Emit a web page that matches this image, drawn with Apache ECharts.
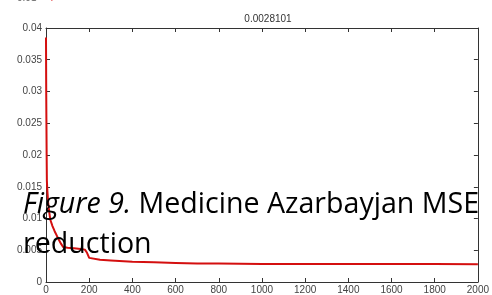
<!DOCTYPE html>
<html><head><meta charset="utf-8">
<script src="https://cdn.jsdelivr.net/npm/echarts@6/dist/echarts.min.js"></script>
<style>html,body{margin:0;padding:0;background:#fff}#c{width:492px;height:295px}</style>
</head><body><div id="c"></div>
<script>
const epochs = [0,1,2,3,4,6,10,15,20,30,40,50,60,70,80,100,130,160,180,190,200,250,300,400,500,600,700,800,1000,1200,1500,1800,2000];
const mse = [0.0385,0.030,0.025,0.020,0.016,0.0145,0.0125,0.011,0.0098,0.0088,0.008,0.0073,0.0066,0.006,0.0055,0.0054,0.0053,0.0052,0.0051,0.0046,0.0038,0.0035,0.0034,0.0032,0.0031,0.0030,0.0029,0.0029,0.00285,0.00284,0.00283,0.00282,0.0028101];
const xTicks = [0,200,400,600,800,1000,1200,1400,1600,1800,2000];
const yTicks = [0,0.005,0.01,0.015,0.02,0.025,0.03,0.035,0.04];
const titleText = '0.0028101';

const chart = echarts.init(document.getElementById('c'));
const axCol = '#333';
const lbl = {color:'#444', fontSize:10, fontFamily:'Liberation Sans'};
chart.setOption({
  animation:false,
  title:{text:titleText, left:263, top:9, textAlign:'center',
    textStyle:{fontSize:10, fontWeight:'normal', color:'#333', fontFamily:'Liberation Sans'}},
  grid:{left:46, right:10, top:28, bottom:13},
  xAxis:[{type:'value', min:xTicks[0], max:xTicks[xTicks.length-1], interval:200,
    axisLine:{onZero:false, lineStyle:{color:axCol}}, axisTick:{inside:true, length:4, lineStyle:{color:axCol}},
    axisLabel:Object.assign({margin:3, showMaxLabel:true, formatter:v=>String(v)}, lbl), splitLine:{show:false}},
   {type:'value', position:'top', min:xTicks[0], max:xTicks[xTicks.length-1], interval:200,
    axisLine:{show:true, onZero:false, lineStyle:{color:axCol}}, axisTick:{inside:true, length:4, lineStyle:{color:axCol}},
    axisLabel:{show:false}, splitLine:{show:false}}],
  yAxis:[{type:'value', min:yTicks[0], max:yTicks[yTicks.length-1], interval:0.005,
    axisLine:{show:true, onZero:false, lineStyle:{color:axCol}}, axisTick:{show:true,inside:true, length:4, lineStyle:{color:axCol}},
    axisLabel:Object.assign({margin:4, formatter:v=>String(+v.toFixed(4))}, lbl), splitLine:{show:false}},
   {type:'value', position:'right', min:yTicks[0], max:yTicks[yTicks.length-1], interval:0.005,
    axisLine:{show:true, onZero:false, lineStyle:{color:axCol}}, axisTick:{show:true,inside:true, length:4, lineStyle:{color:axCol}},
    axisLabel:{show:false}, splitLine:{show:false}}],
  series:[{type:'line', data:epochs.map((e,i)=>[e,mse[i]]), showSymbol:false,
    lineStyle:{color:'#d40f0f', width:2}, z:3}],
  graphic:[
    {type:'text', left:17, top:-7, z:10, style:{text:'0.01', fill:'#666', font:'10px Liberation Sans'}},
    {type:'text', left:48, top:-7, z:10, style:{text:'4', fill:'#d22', font:'10px Liberation Sans'}},
    {type:'text', x:23, y:190, z:20, style:{
      text:'{i|Figure 9.}{n| Medicine Azarbayjan MSE}',
      rich:{i:{fontStyle:'italic', fontSize:28.6, fontFamily:'Open Sans', fill:'#000'},
            n:{fontSize:28.6, fontFamily:'Open Sans', fill:'#000'}}}},
    {type:'text', x:23, y:230, z:20, style:{text:'reduction',
      font:'28.6px Open Sans', fill:'#000'}}
  ]
});
</script></body></html>
